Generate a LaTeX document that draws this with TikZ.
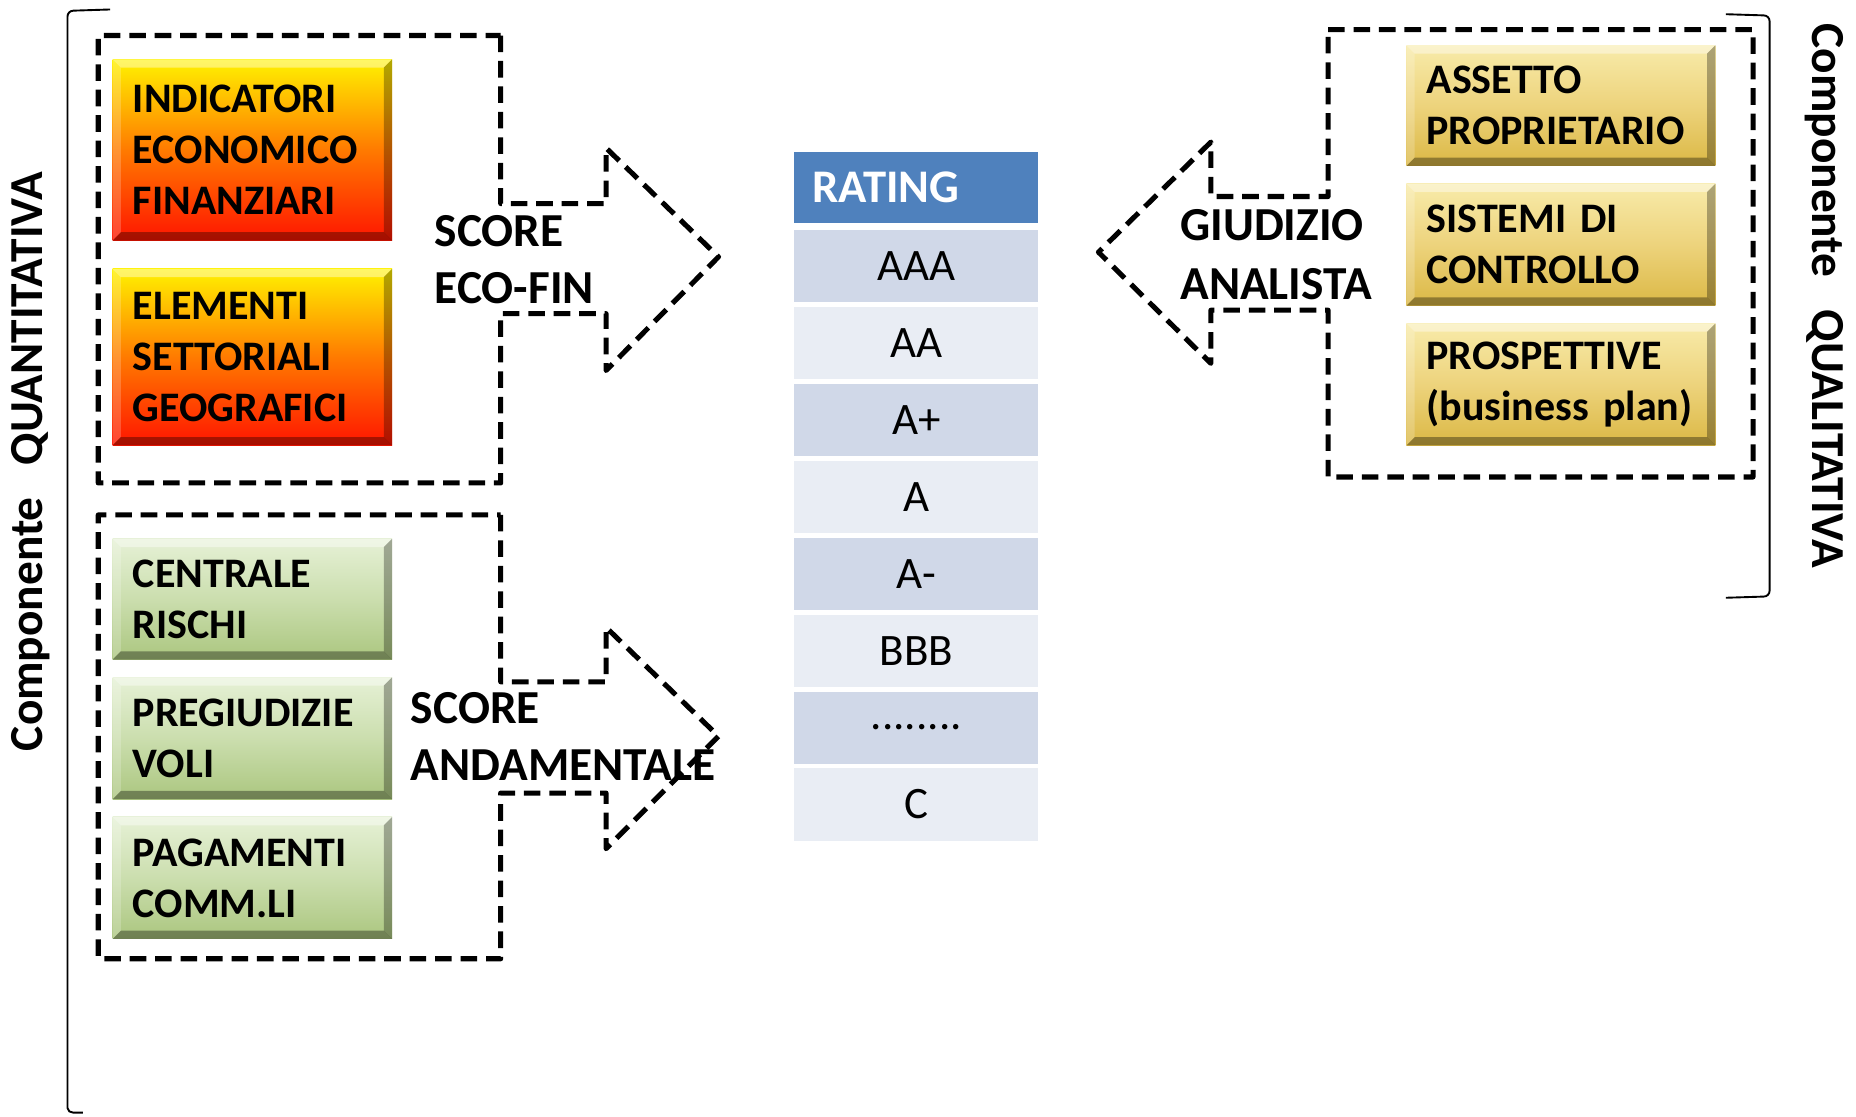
\documentclass[tikz,border=0pt]{standalone}
\usepackage{fontspec}
\setmainfont{Carlito}
\definecolor{hdr}{HTML}{4F81BD}
\definecolor{rowdark}{HTML}{D0D8E8}
\definecolor{rowlight}{HTML}{E9EDF4}
\definecolor{oTop}{HTML}{FFF200}
\definecolor{oMid}{HTML}{FF7A00}
\definecolor{oBot}{HTML}{FF1500}
\definecolor{gTop}{HTML}{E6F1D6}
\definecolor{gMid}{HTML}{CBDEAE}
\definecolor{gBot}{HTML}{ABC67F}
\definecolor{yTop}{HTML}{F8EBAA}
\definecolor{yMid}{HTML}{EDD37C}
\definecolor{yBot}{HTML}{DBB845}
\tikzset{
  bev/.style={path picture={
    \fill[white,opacity=.4] (path picture bounding box.north west) -- (path picture bounding box.north east)
      -- ([xshift=-7pt,yshift=-7pt]path picture bounding box.north east) -- ([xshift=7pt,yshift=-7pt]path picture bounding box.north west) -- cycle;
    \fill[white,opacity=.2] (path picture bounding box.north west) -- ([xshift=7pt,yshift=-7pt]path picture bounding box.north west)
      -- ([xshift=7pt,yshift=7pt]path picture bounding box.south west) -- (path picture bounding box.south west) -- cycle;
    \fill[black,opacity=.3] (path picture bounding box.north east) -- (path picture bounding box.south east)
      -- ([xshift=-7pt,yshift=7pt]path picture bounding box.south east) -- ([xshift=-7pt,yshift=-7pt]path picture bounding box.north east) -- cycle;
    \fill[black,opacity=.35] (path picture bounding box.south west) -- (path picture bounding box.south east)
      -- ([xshift=-7pt,yshift=7pt]path picture bounding box.south east) -- ([xshift=7pt,yshift=7pt]path picture bounding box.south west) -- cycle;
  }},
  lbox/.style={anchor=north west, inner xsep=17pt, inner ysep=0pt, text width=202pt, align=left,
    font=\fontsize{35.5}{43}\selectfont\bfseries, bev},
  rbox/.style={lbox, text width=227pt},
  obox/.style={lbox, top color=oTop, bottom color=oBot, middle color=oMid},
  gbox/.style={lbox, top color=gTop, bottom color=gBot, middle color=gMid},
  ybox/.style={rbox, top color=yTop, bottom color=yBot, middle color=yMid},
  frame/.style={line width=4.3pt, dash pattern=on 14pt off 7.5pt, line join=round},
  lbl/.style={anchor=west, inner sep=0pt, align=left, font=\fontsize{40}{48}\selectfont\bfseries},
  rcell/.style={anchor=north west, minimum width=206pt, minimum height=61pt, inner sep=0pt,
    font=\fontsize{38}{44}\selectfont},
  brk/.style={line width=1.6pt},
  side/.style={font=\fontsize{40}{46}\selectfont\bfseries, inner sep=0pt}
}
\begin{document}
\begin{tikzpicture}[x=1pt,y=-1pt]
\useasboundingbox (0,0) rectangle (1568,943);

% brackets
\draw[brk] (93,8) -- (62,9) to[out=180,in=90] (57,14) -- (57,936) to[out=-90,in=180] (62,940) -- (70,940);
\draw[brk] (1458,12) -- (1490,13) to[out=0,in=90] (1495,18) -- (1495,499) to[out=-90,in=0] (1490,504) -- (1458,505);

% side labels
\node[side, rotate=90] (qt) at (26,390) {Componente\hspace{0.45em} QUANTITATIVA};
\node[side, rotate=-90] (ql) at (1541,250) {Componente\hspace{0.45em} QUALITATIVA};

% dashed frames with arrows
\draw[frame] (423,30) -- (423,172) -- (512,172) -- (512,125) -- (607,217) -- (512,313) -- (512,265)
  -- (423,265) -- (423,408) -- (83,408) -- (83,30) -- cycle;
\draw[frame] (423,435) -- (423,576) -- (512,576) -- (512,530) -- (607,622) -- (512,717) -- (512,670)
  -- (423,670) -- (423,810) -- (83,810) -- (83,435) -- cycle;
\draw[frame] (1122,25) -- (1481,25) -- (1481,403) -- (1122,403) -- (1122,262) -- (1023,262) -- (1023,307)
  -- (928,213) -- (1023,120) -- (1023,166) -- (1122,166) -- cycle;

% boxes
\node[obox, minimum height=153pt] (ind) at (95,50) {INDICATORI\\ECONOMICO\\FINANZIARI};
\node[obox, minimum height=149pt] (ele) at (95,227) {ELEMENTI\\SETTORIALI\\GEOGRAFICI};
\node[gbox, minimum height=102pt] (cen) at (95,455) {CENTRALE\\RISCHI};
\node[gbox, minimum height=103pt] (pre) at (95,572) {PREGIUDIZIE\\VOLI};
\node[gbox, minimum height=103pt] (pag) at (95,690) {PAGAMENTI\\COMM.LI};
\node[ybox, minimum height=102pt] (ass) at (1188,38) {ASSETTO\\PROPRIETARIO};
\node[ybox, minimum height=103pt] (sis) at (1188,155) {SISTEMI DI\\CONTROLLO};
\node[ybox, minimum height=103pt] (pro) at (1188,273) {PROSPETTIVE\\(business plan)};

% arrow labels
\node[lbl] (sef) at (367,219) {SCORE\\ECO-FIN};
\node[lbl] (san) at (347,622) {SCORE\\ANDAMENTALE};
\node[lbl, font=\fontsize{40}{50}\selectfont\bfseries] (gan) at (997,215) {GIUDIZIO\\ANALISTA};

% rating table
\node[rcell, fill=hdr, minimum height=60pt, text=white, font=\fontsize{39.5}{44}\selectfont\bfseries,
  align=left, text width=176pt, inner xsep=15pt] (rat) at (671,128) {RATING};
\node[rcell, fill=rowdark]  (r1) at (671,194) {AAA};
\node[rcell, fill=rowlight] (r2) at (671,259) {AA};
\node[rcell, fill=rowdark]  (r3) at (671,324) {A+};
\node[rcell, fill=rowlight] (r4) at (671,389) {A};
\node[rcell, fill=rowdark]  (r5) at (671,454) {A-};
\node[rcell, fill=rowlight] (r6) at (671,519) {BBB};
\node[rcell, fill=rowdark]  (r7) at (671,584) {........};
\node[rcell, fill=rowlight] (r8) at (671,649) {C};
\end{tikzpicture}
\end{document}
